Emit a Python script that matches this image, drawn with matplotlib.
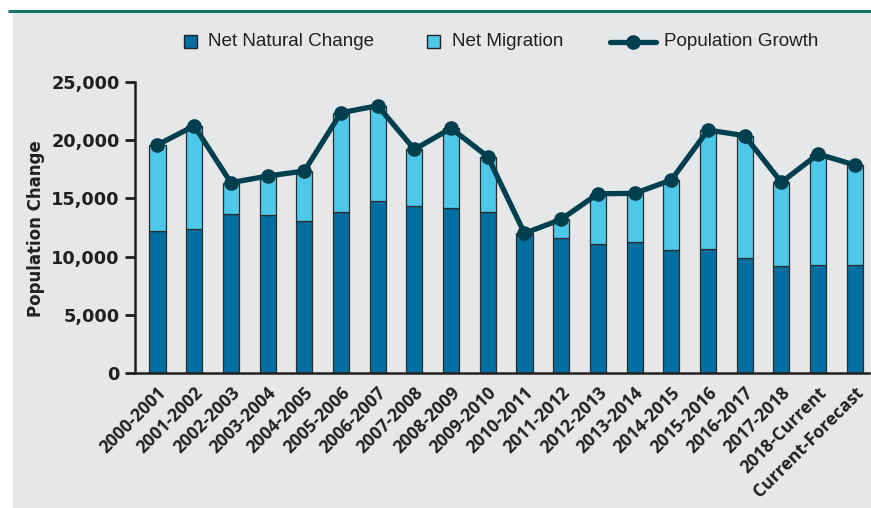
import matplotlib
matplotlib.use("Agg")
import matplotlib.pyplot as plt
from matplotlib.patches import Rectangle
from matplotlib.lines import Line2D
import matplotlib.transforms as mtransforms
import numpy as np

categories = ["2000-2001", "2001-2002", "2002-2003", "2003-2004", "2004-2005",
              "2005-2006", "2006-2007", "2007-2008", "2008-2009", "2009-2010",
              "2010-2011", "2011-2012", "2012-2013", "2013-2014", "2014-2015",
              "2015-2016", "2016-2017", "2017-2018", "2018-Current", "Current-Forecast"]
net_natural = [12220, 12370, 13660, 13570, 13080, 13830, 14800, 14320, 14150, 13830,
               11900, 11570, 11050, 11280, 10570, 10650, 9850, 9220, 9280, 9300]
net_migration = [7380, 8860, 2690, 3350, 4270, 8530, 8160, 4890, 6870, 4750,
                 100, 1630, 4350, 4150, 6010, 10220, 10540, 7160, 9530, 8570]
population_growth = [19600, 21230, 16350, 16920, 17350, 22360, 22960, 19210, 21020, 18580,
                     12000, 13200, 15400, 15430, 16580, 20870, 20390, 16380, 18810, 17870]
y_ticks = [0, 5000, 10000, 15000, 20000, 25000]
legend_labels = ["Net Natural Change", "Net Migration", "Population Growth"]

DARK = "#006EA0"
LIGHT = "#4DC8E8"
LINE = "#003F4E"
BG = "#E6E7E9"
GREEN = "#17725F"
TXT = "#231F20"

W, H = 871, 508
fig = plt.figure(figsize=(W / 100, H / 100), dpi=100, facecolor="white")

# background axes: gray panel and green rule
bg = fig.add_axes([0, 0, 1, 1], zorder=0)
bg.set_xlim(0, W)
bg.set_ylim(H, 0)
bg.axis("off")
bg.add_patch(Rectangle((13, 13), W - 13, H - 13, facecolor=BG, edgecolor="none"))
bg.plot([8, W], [11, 11], color=GREEN, lw=2.2, solid_capstyle="butt")

# legend drawn manually in pixel coords
LFONT = dict(fontsize=13.6, color=TXT, family=["Liberation Sans", "DejaVu Sans"],
             ha="left", va="center")
bg.add_patch(Rectangle((183.5, 34.5), 13, 13, facecolor=DARK, edgecolor="#222222", lw=1.0))
bg.text(208, 41.5, legend_labels[0], **LFONT)
bg.add_patch(Rectangle((426.5, 34.5), 13, 13, facecolor=LIGHT, edgecolor="#222222", lw=1.0))
bg.text(452, 41.5, legend_labels[1], **LFONT)
bg.plot([610, 656], [41.5, 41.5], color=LINE, lw=3.8, solid_capstyle="round")
bg.plot([633], [41.5], color=LINE, marker="o", markersize=9.5)
bg.text(664, 41.5, legend_labels[2], **LFONT)

left, right = 135 / W, 869 / W
bottom, top = 1 - 373 / H, 1 - 82 / H
ax = fig.add_axes([left, bottom, right - left, top - bottom], zorder=2)
ax.set_facecolor("none")

x = np.arange(len(categories))
bw = 0.44
ax.bar(x, net_natural, width=bw, color=DARK, edgecolor="#2b2b2b", linewidth=0.9, zorder=2)
ax.bar(x, net_migration, width=bw, bottom=net_natural, color=LIGHT, edgecolor="#2b2b2b",
       linewidth=0.9, zorder=2)
ax.plot(x, population_growth, color=LINE, lw=3.8, marker="o", markersize=9.5, zorder=3,
        solid_joinstyle="round")

ax.set_xlim(-0.613, (869 - 157.5) / 36.7)
ax.set_ylim(0, 25000)
ax.set_yticks(y_ticks)
ax.set_yticklabels([f"{v:,}" for v in y_ticks], fontsize=12.8, fontweight="bold",
                   color=TXT, family="DejaVu Sans")
ax.tick_params(axis="y", direction="out", length=7, width=2, color="#231F20", pad=4)
ax.tick_params(axis="x", length=0, pad=12)
ax.set_xticks(x)
ax.set_xticklabels(categories, rotation=45, ha="right", va="center", rotation_mode="anchor",
                   fontsize=12.6, fontweight="bold", family=["Open Sans", "DejaVu Sans"],
                   color=TXT)
offset = mtransforms.ScaledTranslation(6 / 100, 0, fig.dpi_scale_trans)
for lab in ax.get_xticklabels():
    lab.set_transform(lab.get_transform() + offset)
for s in ["top", "right"]:
    ax.spines[s].set_visible(False)
for s in ["left", "bottom"]:
    ax.spines[s].set_linewidth(1.8)
    ax.spines[s].set_color("#231F20")

fig.text(36 / W, 1 - 229 / H, "Population Change", rotation=90, ha="center", va="center",
         fontsize=12, fontweight="bold", color=TXT, family="DejaVu Sans", zorder=3)

fig.savefig("out.png", dpi=100, facecolor="white")
